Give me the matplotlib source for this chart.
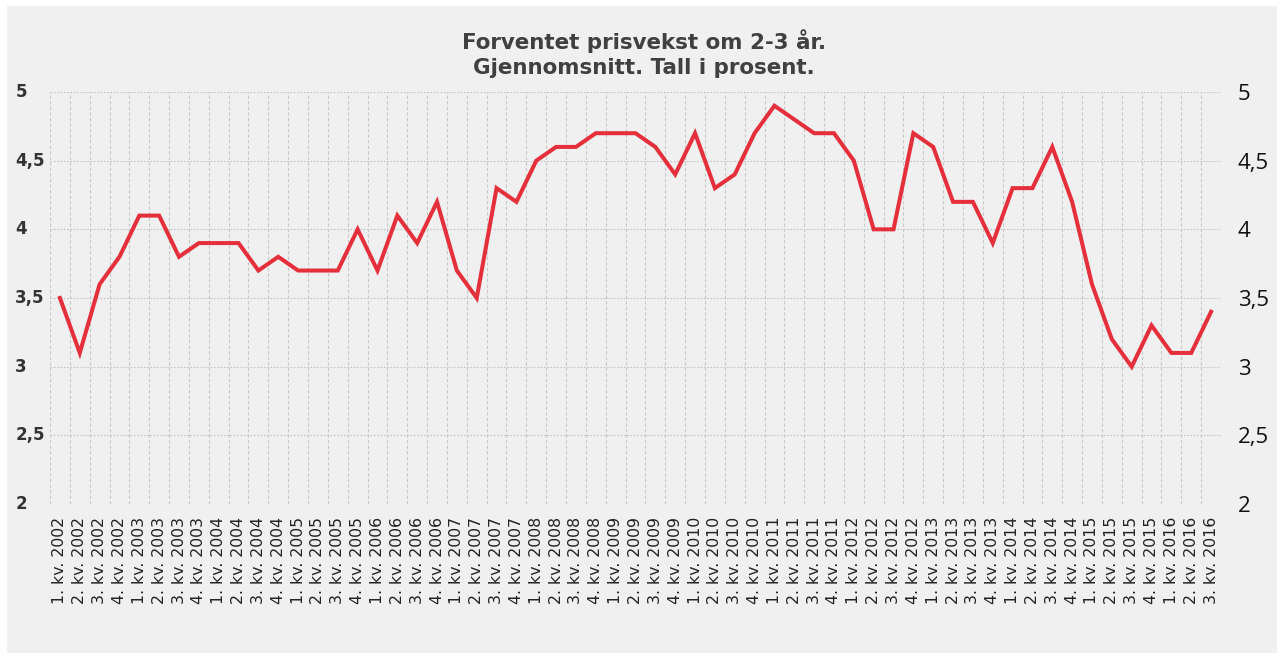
import numpy as np
import matplotlib.pyplot as plt
from matplotlib.patches import Rectangle

#%%
# Data
aar = list(range(2002, 2017))
kvartaler = [f'{q}. kv. {a}' for a in aar for q in (1, 2, 3, 4)][:59]

prisvekst = [3.5, 3.1, 3.6, 3.8,
             4.1, 4.1, 3.8, 3.9,
             3.9, 3.9, 3.7, 3.8,
             3.7, 3.7, 3.7, 4.0,
             3.7, 4.1, 3.9, 4.2,
             3.7, 3.5, 4.3, 4.2,
             4.5, 4.6, 4.6, 4.7,
             4.7, 4.7, 4.6, 4.4,
             4.7, 4.3, 4.4, 4.7,
             4.9, 4.8, 4.7, 4.7,
             4.5, 4.0, 4.0, 4.7,
             4.6, 4.2, 4.2, 3.9,
             4.3, 4.3, 4.6, 4.2,
             3.6, 3.2, 3.0, 3.3,
             3.1, 3.1, 3.4]

y_ticks = [2, 2.5, 3, 3.5, 4, 4.5, 5]
y_labels = ['2', '2,5', '3', '3,5', '4', '4,5', '5']

tittel = 'Forventet prisvekst om 2-3 år.\nGjennomsnitt. Tall i prosent.'

#%%
W, H = 1283, 660
bg = '#f0f0f0'

fig = plt.figure(figsize=(W / 100, H / 100), dpi=100, facecolor='white')
fig.patches.append(Rectangle((7 / W, (H - 653) / H), (1277 - 7) / W, (653 - 6) / H,
                             transform=fig.transFigure, facecolor=bg,
                             edgecolor='none', zorder=-1))

# plot area in pixels: x 50..1221, y 92..504
ax = fig.add_axes([50 / W, (H - 504) / H, (1221 - 50) / W, (504 - 92) / H])
ax.set_facecolor(bg)

x = np.arange(len(prisvekst))
ax.plot(x, prisvekst, color='#e5303c', lw=2.9, solid_joinstyle='miter', zorder=3)

ax.set_xlim(-0.5, len(prisvekst) - 0.5)
ax.set_ylim(2, 5)

for s in ax.spines.values():
    s.set_visible(False)

# horizontal grid (dotted)
ax.set_yticks(y_ticks)
ax.set_yticklabels(y_labels)
for yv in y_ticks:
    ax.axhline(yv, color='#c4c4c4', lw=0.8, ls=(0, (1.5, 1.5)), zorder=1)

# vertical grid at category boundaries (dashed)
for xv in np.arange(-0.5, len(prisvekst), 1.0):
    ax.axvline(xv, color='#c8c8c8', lw=0.8, ls=(0, (3, 2)), zorder=1)

ax.set_xticks(x)
ax.set_xticklabels(kvartaler, rotation=90, fontsize=11.3, color='#222222',
                   family='DejaVu Sans', va='top')
ax.tick_params(axis='x', length=0, pad=9)

# left labels: bold dark grey, left aligned
ax.tick_params(axis='y', length=0, pad=25, labelsize=12, labelcolor='#333333')
for lbl in ax.get_yticklabels():
    lbl.set_fontweight('bold')
    lbl.set_horizontalalignment('left')
    lbl.set_verticalalignment('center')

# right labels
ax2 = ax.twinx()
ax2.set_ylim(2, 5)
ax2.set_yticks(y_ticks)
ax2.set_yticklabels(y_labels, family='Open Sans', fontsize=16, color='#111111')
ax2.tick_params(axis='y', length=0, pad=12)
for s in ax2.spines.values():
    s.set_visible(False)

fig.text(644 / W, 1 - 54 / H, tittel, ha='center', va='center', fontsize=15.4,
         fontweight='bold', color='#404040', linespacing=1.32, family='DejaVu Sans')

fig.savefig('out.png', dpi=100, facecolor='white')
